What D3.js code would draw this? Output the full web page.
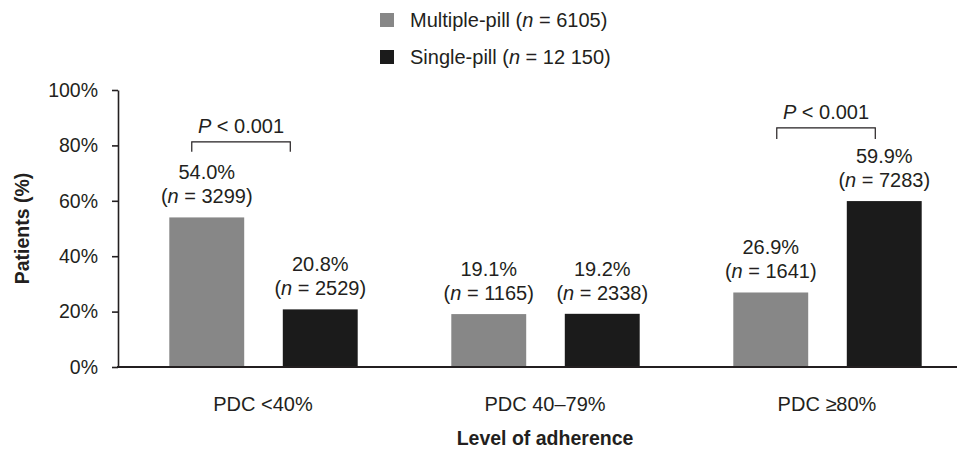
<!DOCTYPE html>
<html>
<head>
<meta charset="utf-8">
<script src="https://cdn.jsdelivr.net/npm/d3@7"></script>
<style>
  html, body { margin: 0; padding: 0; background: #fff; }
  svg { display: block; font-family: "Liberation Sans", Arial, sans-serif; }
</style>
</head>
<body>
<div id="chart"></div>
<script>
// ---- data ----
const categories = ["PDC <40%", "PDC 40\u201379%", "PDC \u226580%"];
const seriesNames = ["Multiple-pill", "Single-pill"];
const seriesTotals = ["6105", "12\u00a0150"];
const multiplePct = [54.0, 19.1, 26.9];
const multipleN = [3299, 1165, 1641];
const singlePct = [20.8, 19.2, 59.9];
const singleN = [2529, 2338, 7283];
const yTicks = [0, 20, 40, 60, 80, 100];
const brackets = [
  { category: "PDC <40%", top: 81.3, bottom: 77.7, label: "< 0.001" },
  { category: "PDC \u226580%", top: 86.3, bottom: 82.3, label: "< 0.001" }
];

const W = 957, H = 449;
const colors = ["#878787", "#1b1b1b"];
const textColor = "#231f20";

const svg = d3.select("#chart").append("svg").attr("width", W).attr("height", H);

const x0 = d3.scaleBand().domain(categories).range([122, 968]).paddingInner(0).paddingOuter(0);
const x1 = d3.scaleBand().domain(seriesNames).range([28, 255]).paddingInner(0.34).paddingOuter(0.17);
const y = d3.scaleLinear().domain([0, 100]).range([367, 90]);

const rows = [];
categories.forEach((c, i) => {
  rows.push({ cat: c, s: seriesNames[0], pct: multiplePct[i], n: multipleN[i], ci: 0 });
  rows.push({ cat: c, s: seriesNames[1], pct: singlePct[i], n: singleN[i], ci: 1 });
});

// bars
svg.append("g").selectAll("rect").data(rows).join("rect")
  .attr("x", d => x0(d.cat) + x1(d.s))
  .attr("y", d => y(d.pct))
  .attr("width", x1.bandwidth())
  .attr("height", d => y(0) - y(d.pct))
  .attr("fill", d => colors[d.ci]);

// value labels
const lab = svg.append("g").attr("font-size", 20).attr("fill", textColor).attr("text-anchor", "middle");
rows.forEach(d => {
  const cx = x0(d.cat) + x1(d.s) + x1.bandwidth() / 2;
  lab.append("text").attr("x", cx).attr("y", y(d.pct) - 38).text(d.pct.toFixed(1) + "%");
  const t = lab.append("text").attr("x", cx).attr("y", y(d.pct) - 14);
  t.append("tspan").text("(");
  t.append("tspan").attr("font-style", "italic").text("n");
  t.append("tspan").text(" = " + d.n + ")");
});

// y axis
const yAxis = svg.append("g").attr("transform", "translate(118,0)")
  .call(d3.axisLeft(y).tickValues(yTicks).tickFormat(d => d + "%").tickSize(6).tickSizeOuter(0).tickPadding(14));
yAxis.selectAll("path, line").attr("stroke", textColor).attr("stroke-width", 1.6);
yAxis.selectAll("text").attr("font-size", 19.5).attr("fill", textColor).attr("font-family", "Liberation Sans, Arial, sans-serif");

// x axis
const xAxis = svg.append("g").attr("transform", `translate(0,${y(0)})`)
  .call(d3.axisBottom(x0).tickSize(0).tickPadding(30));
xAxis.select(".domain").remove();
xAxis.selectAll("text").attr("font-size", 20).attr("fill", textColor).attr("font-family", "Liberation Sans, Arial, sans-serif");
svg.append("line").attr("x1", 117).attr("x2", W).attr("y1", y(0)).attr("y2", y(0))
  .attr("stroke", textColor).attr("stroke-width", 2);

// axis titles
svg.append("text").attr("transform", `translate(29,${(y(0) + y(100)) / 2}) rotate(-90)`)
  .attr("text-anchor", "middle").attr("font-weight", "bold").attr("font-size", 19.5)
  .attr("fill", textColor).text("Patients (%)");
svg.append("text").attr("x", x0(categories[1]) + x0.bandwidth() / 2).attr("y", 445)
  .attr("text-anchor", "middle").attr("font-weight", "bold").attr("font-size", 19.5)
  .attr("fill", textColor).text("Level of adherence");

// brackets
brackets.forEach(b => {
  const gx = x0(b.category);
  const ci = categories.indexOf(b.category);
  const shift = ci === 0 ? 0 : 21;
  const a = gx + x1(seriesNames[0]) + x1.bandwidth() * 0.3 + shift;
  const c = gx + x1(seriesNames[1]) + x1.bandwidth() * 0.1 + shift;
  svg.append("path")
    .attr("d", `M${a},${y(b.bottom)}V${y(b.top)}H${c}V${y(b.bottom)}`)
    .attr("fill", "none").attr("stroke", textColor).attr("stroke-width", 1.2);
  const t = svg.append("text").attr("x", (a + c) / 2).attr("y", y(b.top) - 9)
    .attr("text-anchor", "middle").attr("font-size", 20).attr("fill", textColor);
  t.append("tspan").attr("font-style", "italic").text("P");
  t.append("tspan").text(" " + b.label);
});

// legend
const leg = svg.append("g");
seriesNames.forEach((s, i) => {
  const yy = 20 + i * 37;
  leg.append("rect").attr("x", 380).attr("y", yy - 7).attr("width", 14).attr("height", 14).attr("fill", colors[i]);
  const t = leg.append("text").attr("x", 410).attr("y", yy + 7).attr("font-size", 20).attr("fill", textColor);
  t.append("tspan").text(s + " (");
  t.append("tspan").attr("font-style", "italic").text("n");
  t.append("tspan").text(" = " + seriesTotals[i] + ")");
});
</script>
</body>
</html>
